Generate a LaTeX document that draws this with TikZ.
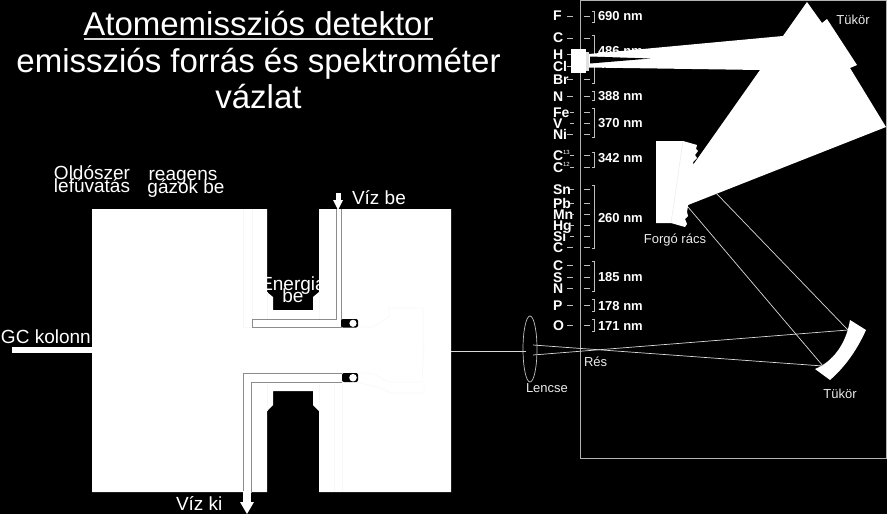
\documentclass[tikz,border=0pt]{standalone}
\usepackage{fontspec}
\usetikzlibrary{shapes.geometric}
\setmainfont{Liberation Sans}
\newcommand{\fpx}[1]{\fontsize{#1}{#1}\selectfont}
\tikzset{
  lbl/.style={text=white,inner sep=0pt,outer sep=0pt},
  big/.style={lbl,anchor=base,font=\fpx{19}},
  title/.style={lbl,anchor=base,font=\fpx{33}},
  small/.style={lbl,anchor=base,text=white!92!black,font=\fpx{13}},
  elem/.style={lbl,anchor=base west,font=\bfseries\fpx{14}},
  nm/.style={lbl,anchor=base west,font=\bfseries\fpx{13}},
  tube/.style={fill=white,draw=black!45,line width=0.9pt},
  faint/.style={draw=black!3,line width=0.5pt},
  ray/.style={draw=white!85!black,line width=0.7pt},
  tick/.style={draw=white!75!black,line width=0.8pt},
  brk/.style={draw=white!75!black,line width=0.7pt},
  frame/.style={draw=black!30,line width=1pt}
}
\begin{document}
\begin{tikzpicture}[x=1pt,y=-1pt]
\useasboundingbox (0,0) rectangle (887,514);
\fill[black] (0,0) rectangle (887,514);

% title
\node[title] (t1) at (258.5,35) {Atomemisszi\'os detektor};
\draw[white!85!black,line width=1.8pt] (84,39) -- (433,39);
\node[title] (t2) at (258.5,72) {emisszi\'os forr\'as \'es spektrom\'eter};
\node[title] (t3) at (258.5,108) {v\'azlat};

% labels of the source
\node[big] (old1) at (92,179) {Old\'oszer};
\node[big] (old2) at (92,192) {lef\'uvat\'as};
\node[big] (rea1) at (183,180) {reagens};
\node[big] (rea2) at (186,193) {g\'azok be};
\node[big,anchor=base west] (gc) at (1,343) {GC kolonn};
\node[big,anchor=base west] (vb) at (352,204) {V\'iz be};
\node[big,anchor=base west] (vk) at (176,510) {V\'iz ki};

% body of the source
\fill[white] (92,209) -- (267,209) -- (267,292) -- (273,297) -- (273,310) -- (313,310) -- (313,297) -- (319,292) -- (319,209) -- (451,209) -- (451,492) -- (319,492) -- (319,411) -- (313,405) -- (313,391) -- (273,391) -- (273,405) -- (267,411) -- (267,492) -- (92,492) -- cycle;
\fill[white] (12,347) rectangle (92,353);
\node[big] (en1) at (293,290) {Energia};
\node[big] (en2) at (293,302) {be};

% faint construction lines
\draw[faint] (243,209) -- (243,327) -- (252,327);
\draw[faint] (252,209) -- (252,319);
\draw[faint] (267,292) -- (267,319);
\draw[faint] (319,292) -- (319,319);
\draw[faint] (358,327) -- (373,327) -- (389,317) -- (389,308) -- (423,308) -- (423,350);
\draw[faint] (357,373) -- (372,373) -- (388,382) -- (422,382) -- (424,345);
\draw[faint] (357,382) -- (377,387) -- (392,393) -- (424,393) -- (424,382);
\draw[faint] (334,382) -- (334,492);
\draw[faint] (342,382) -- (342,492);
\draw[faint] (267,382) -- (267,411);
\draw[faint] (319,382) -- (319,411);

% upper water tube
\filldraw[tube] (336,209) -- (336,319) -- (252,319) -- (252,327) -- (341,327) -- (341,209);
\fill[white] (336,193) rectangle (341,201);
\fill[white] (333,200) -- (343,200) -- (338,210) -- cycle;
\fill[black,rounded corners=2pt] (341,319) rectangle (358,327.5);
\fill[white] (353,323.3) circle (3.6);

% lower water tube
\filldraw[tube] (342,373) -- (243,373) -- (243,492) -- (251,492) -- (251,382) -- (342,382);
\fill[white] (243,491) rectangle (251,503);
\fill[white] (240,502) -- (254,502) -- (247,514) -- cycle;
\fill[black,rounded corners=2pt] (342,373) rectangle (358,382);
\fill[white] (353,377.7) circle (3.8);

% spectrometer frame
\draw[frame] (580,0.5) -- (886,0.5) -- (886,458) -- (580,458) -- cycle;

% elements
\foreach \n/\y/\t in {F/20/F,Ca/42/C,H/59/H,Cl/71/Cl,Br/84/Br,Na/101/N,Fe/117/Fe,V/128/V,Ni/139/Ni,Cd/172/C,Sn/194/Sn,Pb/208/Pb,Mn/219/Mn,Hg/230/Hg,Si/241/Si,Cb/252/C,Cc/270/C,S/282/S,Nb/293/N,P/310/P,O/330/O}
  \node[elem] (el\n) at (553,\y) {\t};
\node[elem] (elCe) at (553,160) {C};
\node[lbl,anchor=base west,font=\fpx{6}] (s13) at (563,154) {13};
\node[lbl,anchor=base west,font=\fpx{6}] (s12) at (563,166) {12};

% ticks
\foreach \y in {16,38,54,66,79,96,112,123,134,155,167,189,203,214,225,236,247,265,277,288,305,325}{
  \draw[tick] (584,\y) -- (590,\y);
}
\foreach \y in {16,38,54,66,79,96,134,247,265,277,288,305,325}{
  \draw[tick] (567,\y) -- (573,\y);
}
\foreach \y in {112,123,155,167,189,203,214,225,236}{
  \draw[tick] (570,\y) -- (574,\y);
}
% brackets
\foreach \a/\b in {11/22,35/83,91/100,108/137,152/167,185/248,261/291,299/311,319/331}{
  \draw[brk] (592,\a) -- (594.5,\a) -- (594.5,\b) -- (592,\b);
}
% wavelengths
\foreach \n/\y/\t in {a/20/690,b/56/486,c/68/479,d/100/388,e/127/370,f/162/342,g/222/260,h/281/185,i/310/178,j/330/171}
  \node[nm] (nm\n) at (598,\y) {\t{} nm};

% beam and first mirror
\fill[white] (589,54) -- (783,36) -- (807,2) -- (822,23) -- (827,19) -- (857,65) -- (850,68) -- (886,127) -- (688,205) -- (680,205) -- (680,170) -- (693,165) -- (760,70) -- (589,67.5) -- cycle;
\fill[black] (590,56.5) -- (650,58.5) -- (590,63.5) -- cycle;

% exit slit block
\fill[white!88!black] (584,52) rectangle (589,71);
\fill[white] (571,49) rectangle (586,73);

% grating
\fill[white] (656,141) -- (683,141) -- (697,145) -- (696,149) -- (698,151) -- (695,155) -- (697,158) -- (693,162) -- (694,166) -- (692,167) -- (688,206) -- (687,212) -- (688,216) -- (685,219) -- (687,224) -- (685,227) -- (671,223) -- (656,223) -- cycle;
\draw[black!8,line width=0.5pt] (683,141) -- (671,223);

% second mirror
\fill[white] (850,320) -- (866,330) .. controls (857,350) and (845,367) .. (830,380) -- (815,369) .. controls (832,362) and (846,345) .. (850,320) -- cycle;

% optical path
\coordinate (bodyR) at (451,351);
\coordinate (lensL) at (526,351);
\coordinate (r1) at (533,345);
\coordinate (r2) at (533,355);
\coordinate (m1) at (823,366);
\coordinate (m2) at (848,330);
\coordinate (g1) at (688,207);
\coordinate (g2) at (716,193);
\draw[ray] (bodyR) -- (lensL);
\draw[ray] (r1) -- (m1);
\draw[ray] (r2) -- (m2);
\draw[ray] (g1) -- (m1);
\draw[ray] (g2) -- (m2);
\node[draw=white!75!black,line width=0.7pt,ellipse,minimum width=14pt,minimum height=66pt,inner sep=0pt] (lens) at (530,349) {};

% labels of the spectrometer
\node[small] (l1) at (853,24) {T\"uk\"or};
\node[small] (l2) at (840,398) {T\"uk\"or};
\node[small] (l3) at (675,243) {Forg\'o r\'acs};
\node[small,anchor=base west] (l4) at (584,366) {R\'es};
\node[small,anchor=base west] (l5) at (526,392) {Lencse};
\end{tikzpicture}
\end{document}
